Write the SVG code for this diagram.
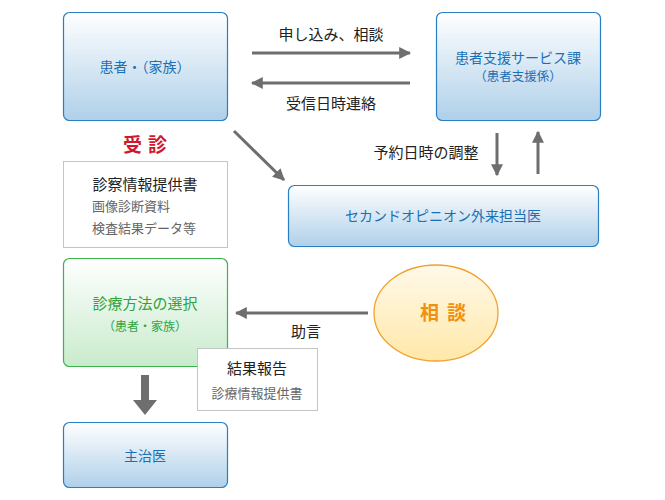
<svg xmlns="http://www.w3.org/2000/svg" width="665" height="500" viewBox="0 0 665 500">
<defs>
<linearGradient id="gb" x1="0" y1="0" x2="0" y2="1"><stop offset="0" stop-color="#ffffff"/><stop offset="1" stop-color="#afd0e9"/></linearGradient>
<linearGradient id="gg" x1="0" y1="0" x2="0" y2="1"><stop offset="0" stop-color="#ffffff"/><stop offset="1" stop-color="#c8ebcc"/></linearGradient>
<linearGradient id="go" x1="0" y1="0" x2="0" y2="1"><stop offset="0" stop-color="#fff9ea"/><stop offset="1" stop-color="#ffe8a8"/></linearGradient>
<marker id="ah" viewBox="0 0 10 10" refX="9" refY="5" markerWidth="4" markerHeight="4" orient="auto" markerUnits="strokeWidth"><path d="M0,0 L10,5 L0,10 z" fill="#6e6e6e"/></marker>
</defs>
<style>
.bb{fill:url(#gb);stroke:#2a7fc4;stroke-width:1.2}
.gb{fill:url(#gg);stroke:#3cb44a;stroke-width:1.2}
.wb{fill:#fff;stroke:#c4c4c4;stroke-width:1}
text{font-family:"Noto Sans CJK JP","Noto Sans",sans-serif;text-anchor:middle}
.st{text-anchor:start}
.bt{fill:#1a6fb5;font-size:14px}
.bs{fill:#1a6fb5;font-size:12.5px}
.lb{fill:#222;font-size:15px}
.gt{fill:#666;font-size:13px}
.ln{stroke:#6e6e6e;stroke-width:3;fill:none;marker-end:url(#ah)}
</style>
<g id="connectors">
<line class="ln" x1="252" y1="53" x2="410" y2="53"/>
<line class="ln" x1="410" y1="83" x2="252" y2="83"/>
<line class="ln" x1="234" y1="131" x2="284" y2="180"/>
<line class="ln" x1="497" y1="133" x2="497" y2="175"/>
<line class="ln" x1="538" y1="174" x2="538" y2="132"/>
<line class="ln" x1="368" y1="313" x2="236" y2="313"/>
<path d="M141,375 H149 V400 H157 L145,415 L133,400 H141 Z" fill="#6e6e6e"/>
<text class="lb" x="331" y="40">申し込み、相談</text>
<text class="lb" x="331" y="109">受信日時連絡</text>
<text class="lb" x="426" y="158">予約日時の調整</text>
<text class="lb" x="306" y="337">助言</text>
</g>
<g id="patient">
<rect class="bb" x="63.5" y="12.5" width="164" height="108" rx="6"/>
<text class="bt" x="145" y="72">患者・（家族）</text>
</g>
<g id="support">
<rect class="bb" x="436.5" y="12.5" width="164" height="108" rx="6"/>
<text class="bt" x="518" y="63">患者支援サービス課</text>
<text class="bs" x="518" y="81">（患者支援係）</text>
</g>
<g id="jushin">
<text x="148" y="152" fill="#d0182d" font-size="19" font-weight="bold" letter-spacing="6">受診</text>
</g>
<g id="docs">
<rect class="wb" x="63.5" y="161.5" width="164" height="86"/>
<text class="lb" x="145" y="190">診察情報提供書</text>
<text class="gt st" x="92" y="211">画像診断資料</text>
<text class="gt st" x="92" y="233">検査結果データ等</text>
</g>
<g id="second">
<rect class="bb" x="288.5" y="185.5" width="310" height="61" rx="6"/>
<text class="bt" x="443" y="221" font-size="15.5">セカンドオピニオン外来担当医</text>
</g>
<g id="choice">
<rect class="gb" x="63.5" y="258.5" width="164" height="108" rx="6"/>
<text x="145" y="309" fill="#2fa43c" font-size="15">診療方法の選択</text>
<text x="145" y="331" fill="#2fa43c" font-size="12">（患者・家族）</text>
</g>
<g id="soudan">
<ellipse cx="436" cy="313" rx="62" ry="48" fill="url(#go)" stroke="#f2a12e" stroke-width="1.3"/>
<text x="447" y="320" fill="#f0900f" font-size="19" font-weight="bold" letter-spacing="8">相談</text>
</g>
<g id="report">
<rect class="wb" x="197.5" y="348.5" width="120" height="62"/>
<text class="lb" x="257" y="374">結果報告</text>
<text class="gt" x="257" y="398" font-size="13.5">診療情報提供書</text>
</g>
<g id="shujii">
<rect class="bb" x="63.5" y="422.5" width="164" height="65" rx="6"/>
<text class="bt" x="145" y="461" font-size="15">主治医</text>
</g>
</svg>
